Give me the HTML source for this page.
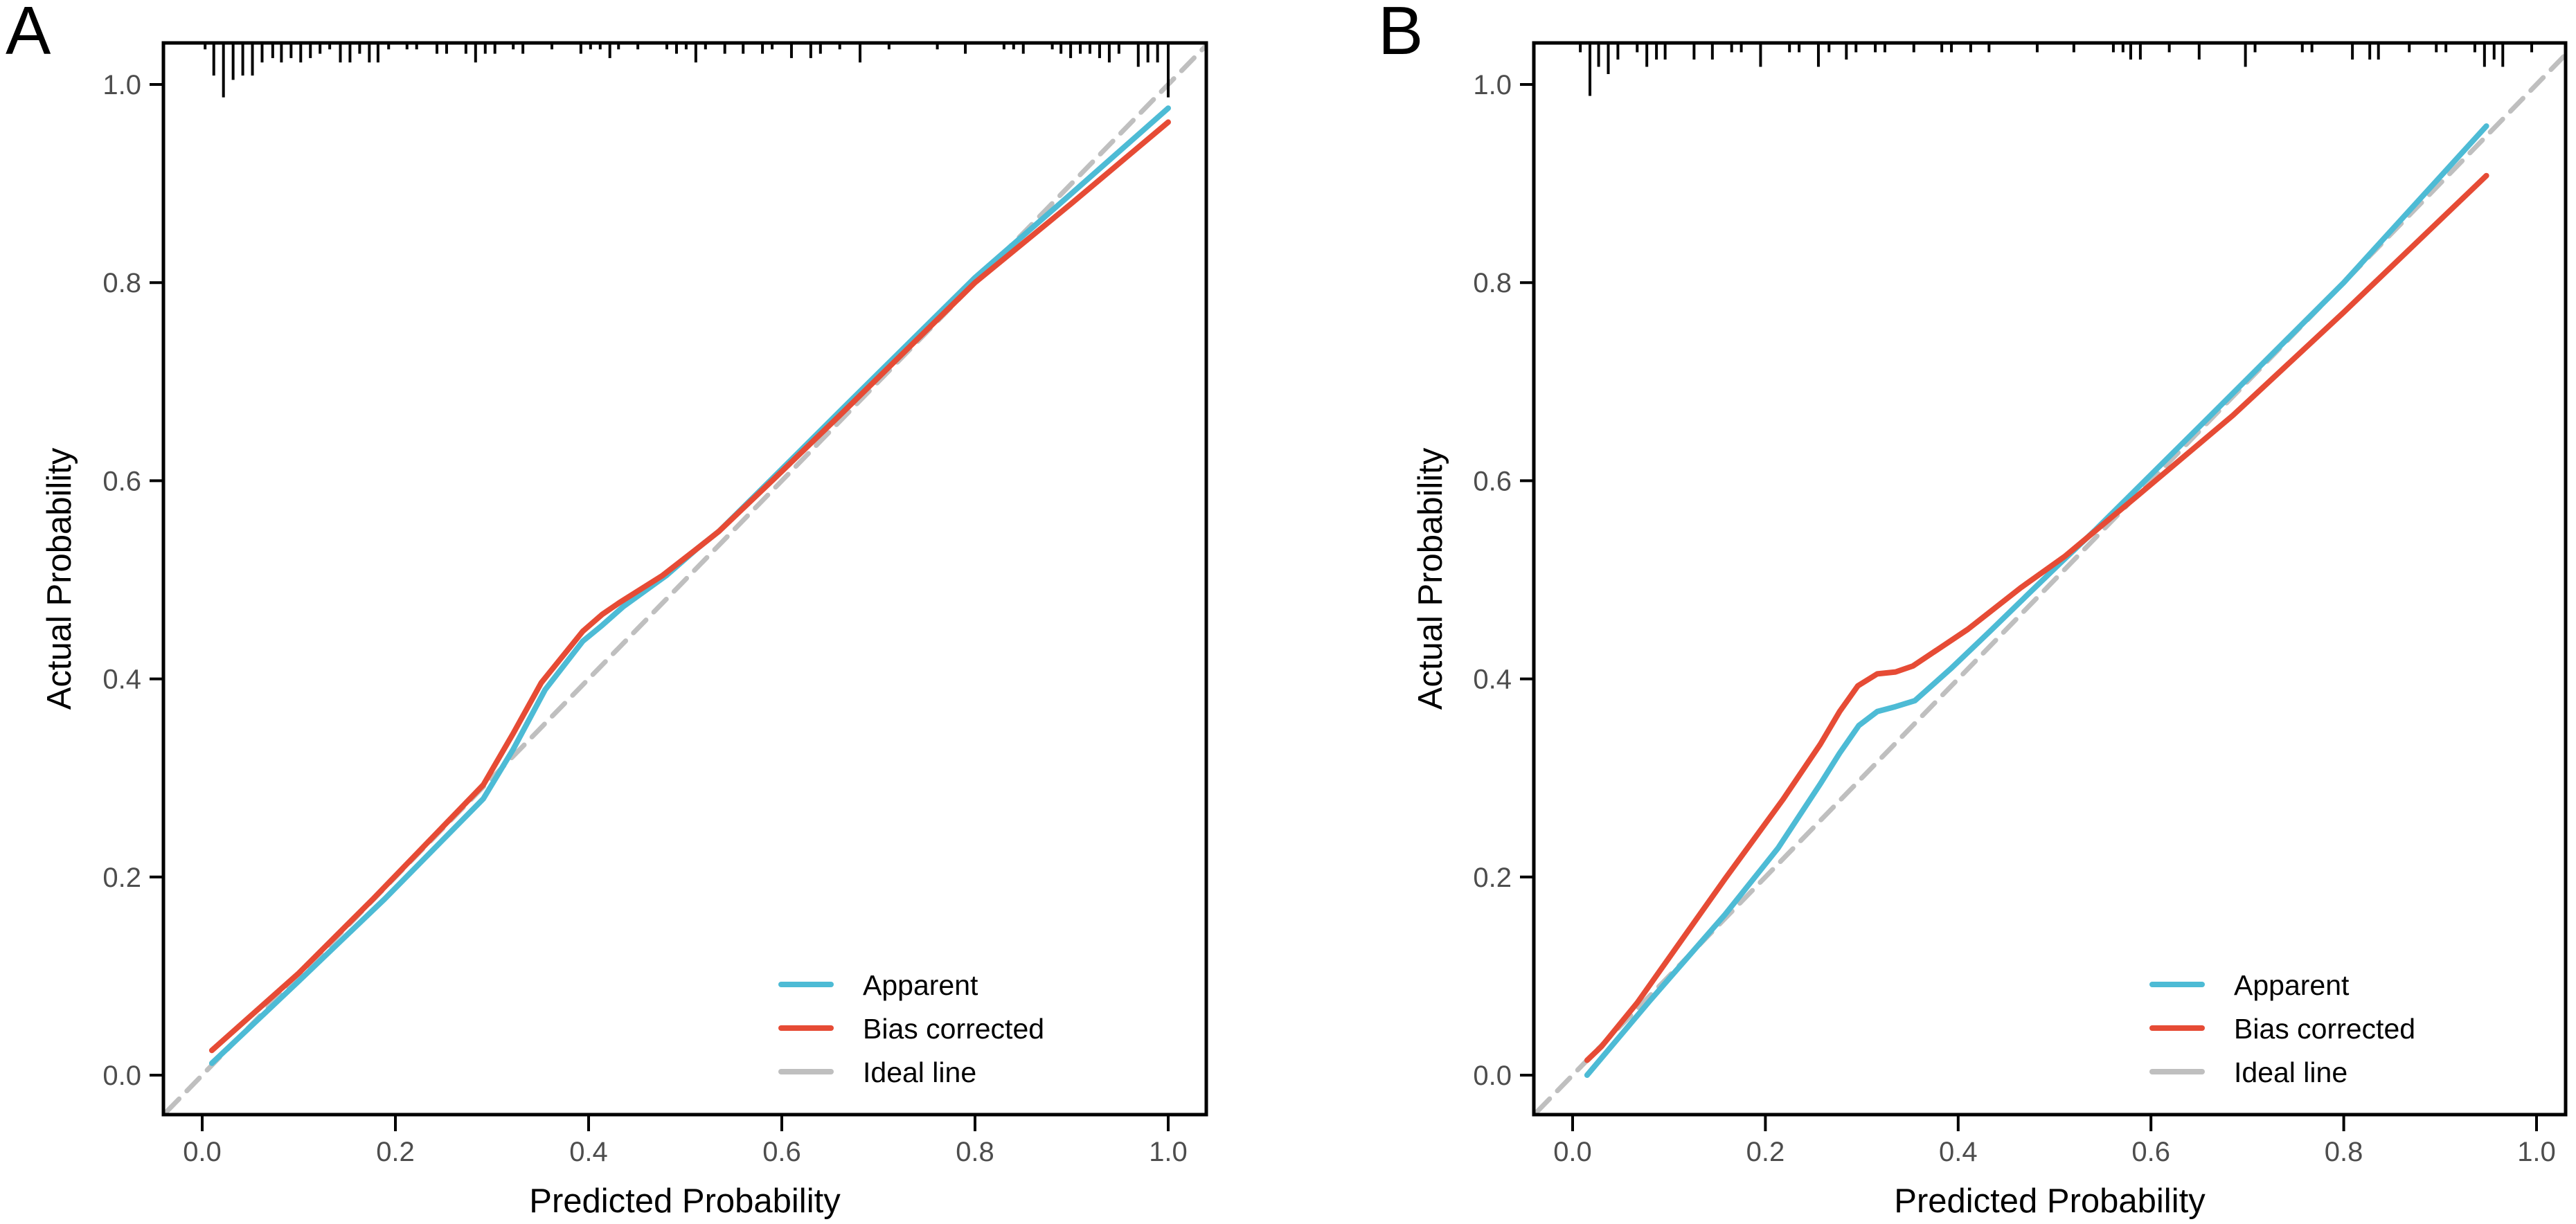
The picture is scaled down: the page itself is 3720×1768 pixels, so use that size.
<!DOCTYPE html>
<html><head><meta charset="utf-8"><style>
html,body{margin:0;padding:0;background:#fff;}
svg{display:block;font-family:"Liberation Sans",Arial,sans-serif;}
</style></head><body>
<svg id="chart" width="3720" height="1768" viewBox="0 0 3720 1768" xmlns="http://www.w3.org/2000/svg">
<defs>
<clipPath id="clipA"><rect x="236" y="62" width="1506" height="1548"/></clipPath>
<clipPath id="clipB"><rect x="2215" y="62" width="1490" height="1548"/></clipPath>
</defs>
</svg>
<script>
// ---- Panel A data ----
const ticks = [0, 0.2, 0.4, 0.6, 0.8, 1.0];
const tickLabels = ["0.0", "0.2", "0.4", "0.6", "0.8", "1.0"];
const seriesNames = ["Apparent", "Bias corrected", "Ideal line"];
const aApparentX = [0.01, 0.1, 0.189, 0.291, 0.322, 0.355, 0.394, 0.414, 0.436, 0.48, 0.513, 0.535, 0.59, 0.66, 0.8, 0.9, 1.0];
const aApparentY = [0.012, 0.095, 0.178, 0.279, 0.329, 0.389, 0.438, 0.454, 0.473, 0.504, 0.532, 0.549, 0.602, 0.67, 0.805, 0.89, 0.976];
const aBiasX = [0.01, 0.1, 0.177, 0.291, 0.322, 0.351, 0.394, 0.414, 0.432, 0.476, 0.513, 0.535, 0.59, 0.66, 0.8, 0.9, 1.0];
const aBiasY = [0.025, 0.103, 0.178, 0.293, 0.345, 0.396, 0.448, 0.465, 0.477, 0.504, 0.532, 0.549, 0.6, 0.666, 0.8, 0.88, 0.962];
const aRugX = [0.003,0.012,0.022,0.032,0.042,0.052,0.062,0.073,0.082,0.092,0.102,0.112,0.122,0.132,0.143,0.153,0.163,0.173,0.182,0.193,0.212,0.222,0.243,0.253,0.273,0.283,0.293,0.303,0.322,0.332,0.362,0.392,0.402,0.412,0.422,0.431,0.451,0.481,0.491,0.501,0.511,0.521,0.541,0.560,0.580,0.590,0.610,0.630,0.640,0.660,0.681,0.711,0.761,0.790,0.830,0.840,0.850,0.880,0.889,0.899,0.909,0.919,0.929,0.939,0.949,0.969,0.979,0.989,1.000];
const aRugCount = [1,7,12,8,7,7,4,3,4,3,4,3,2,1,4,4,2,4,4,1,1,1,2,2,2,4,2,2,1,2,1,2,1,1,3,1,1,1,2,1,4,1,2,2,2,1,3,3,2,1,4,1,1,2,1,1,2,1,2,3,2,2,3,4,2,5,4,4,12];
// ---- Panel B data ----
const bApparentX = [0.015, 0.08, 0.158, 0.213, 0.257, 0.277, 0.297, 0.316, 0.335, 0.355, 0.392, 0.433, 0.47, 0.506, 0.543, 0.662, 0.8, 0.948];
const bApparentY = [0.0, 0.075, 0.162, 0.229, 0.294, 0.325, 0.353, 0.367, 0.372, 0.378, 0.41, 0.448, 0.483, 0.517, 0.551, 0.666, 0.8, 0.958];
const bBiasX = [0.015, 0.03, 0.067, 0.158, 0.218, 0.257, 0.277, 0.296, 0.316, 0.335, 0.353, 0.41, 0.465, 0.511, 0.543, 0.585, 0.685, 0.8, 0.948];
const bBiasY = [0.015, 0.029, 0.073, 0.198, 0.278, 0.334, 0.367, 0.393, 0.405, 0.407, 0.413, 0.45, 0.492, 0.524, 0.55, 0.584, 0.666, 0.77, 0.908];
const bRugX = [0.008,0.018,0.027,0.037,0.047,0.067,0.077,0.087,0.096,0.126,0.145,0.165,0.175,0.195,0.225,0.235,0.255,0.266,0.284,0.294,0.314,0.324,0.354,0.383,0.393,0.413,0.432,0.482,0.520,0.561,0.571,0.579,0.589,0.619,0.650,0.698,0.708,0.757,0.767,0.809,0.827,0.836,0.868,0.896,0.906,0.936,0.946,0.956,0.965,0.995];
const bRugCount = [1,7,3,4,2,1,3,2,2,2,2,1,1,3,1,1,3,1,2,1,1,1,1,1,1,1,1,1,1,1,1,2,2,1,2,3,1,1,1,2,2,2,1,1,1,1,3,2,3,1];

const NS = "http://www.w3.org/2000/svg";
const svg = document.getElementById("chart");
function mk(tag, attrs, parent){
  const e = document.createElementNS(NS, tag);
  for (const k in attrs) e.setAttribute(k, attrs[k]);
  (parent || svg).appendChild(e);
  return e;
}
const BLUE = "#4DBBD5", RED = "#E64B35", GRAY = "#BFBFBF";

function drawPanel(p){
  const sx = v => p.x0 + v * p.xs;
  const sy = v => p.y0 - v * p.ys;
  const g = mk("g", {});
  
  
  const L = p.left, R = p.right, T = 62, B = 1610;
  const lt = mk("text", {x: p.letterX, y: 78, "font-size": 98, fill: "#000"}, g);
  lt.textContent = p.letter;
  
  
  const clip = mk("g", {"clip-path": "url(#" + p.clip + ")"}, g);
  const ideal = mk("line", {x1: sx(-0.1), y1: sy(-0.1), x2: sx(1.1), y2: sy(1.1), stroke: GRAY, "stroke-width": 7, "stroke-dasharray": "26 16", "stroke-linecap": "round"}, clip);
  
  
  function series(xs, ys, color, name){
    let d = "";
    for (let i = 0; i < xs.length; i++) d += (i ? "L" : "M") + sx(xs[i]).toFixed(1) + "," + sy(ys[i]).toFixed(1);
    const pth = mk("path", {d: d, fill: "none", stroke: color, "stroke-width": 8, "stroke-linejoin": "round", "stroke-linecap": "round"}, clip);
    
    
  }
  series(p.appX, p.appY, BLUE, 'apparent-line');
  series(p.biasX, p.biasY, RED, 'bias-corrected-line');
  for (let i = 0; i < p.rugX.length; i++) {
    const r = mk("line", {x1: sx(p.rugX[i]), y1: T, x2: sx(p.rugX[i]), y2: T + 3 + p.rugCount[i] * p.rugUnit, stroke: "#000", "stroke-width": 4}, g);
    
    
  }
  const box = mk("rect", {x: L, y: T, width: R - L, height: B - T, fill: "none", stroke: "#000", "stroke-width": 5}, g);
  
  
  for (let i = 0; i < ticks.length; i++) {
    const xt = mk("line", {x1: sx(ticks[i]), y1: B, x2: sx(ticks[i]), y2: B + 24, stroke: "#000", "stroke-width": 4}, g);
    
    
    const xl = mk("text", {x: sx(ticks[i]), y: 1677, "font-size": 40, fill: "#4D4D4D", "text-anchor": "middle"}, g);
    xl.textContent = tickLabels[i];
    
    
    const yt = mk("line", {x1: L - 20, y1: sy(ticks[i]), x2: L, y2: sy(ticks[i]), stroke: "#000", "stroke-width": 4}, g);
    
    
    const yl = mk("text", {x: L - 32, y: sy(ticks[i]) + 14, "font-size": 40, fill: "#4D4D4D", "text-anchor": "end"}, g);
    yl.textContent = tickLabels[i];
    
    
  }
  const xt = mk("text", {x: (L + R) / 2, y: 1751, "font-size": 49, fill: "#000", "text-anchor": "middle"}, g);
  xt.textContent = "Predicted Probability";
  
  
  const yt = mk("text", {x: 0, y: 0, "font-size": 49, fill: "#000", "text-anchor": "middle", transform: "translate(" + (p.ytitleX) + ",836) rotate(-90)"}, g);
  yt.textContent = "Actual Probability";
  
  
  const colors = [BLUE, RED, GRAY];
  const rows = [1422, 1485, 1548];
  for (let i = 0; i < 3; i++) {
    const ll = mk("line", {x1: p.legX, y1: rows[i], x2: p.legX + 72, y2: rows[i], stroke: colors[i], "stroke-width": 8, "stroke-linecap": "round"}, g);
    
    
    const tx = mk("text", {x: p.legX + 118, y: rows[i] + 15, "font-size": 41, fill: "#000"}, g);
    tx.textContent = seriesNames[i];
    
    
  }
}

drawPanel({name: "panel-a", letter: "A", letterX: 8, clip: "clipA", left: 236, right: 1742, x0: 292, xs: 1395, y0: 1553, ys: 1431,
  appX: aApparentX, appY: aApparentY, biasX: aBiasX, biasY: aBiasY, rugX: aRugX, rugCount: aRugCount, rugUnit: 6.3, legX: 1128, ytitleX: 102});
drawPanel({name: "panel-b", letter: "B", letterX: 1990, clip: "clipB", left: 2215, right: 3705, x0: 2271, xs: 1392, y0: 1553, ys: 1431,
  appX: bApparentX, appY: bApparentY, biasX: bBiasX, biasY: bBiasY, rugX: bRugX, rugCount: bRugCount, rugUnit: 10.5, legX: 3108, ytitleX: 2082});
</script>
</body></html>
